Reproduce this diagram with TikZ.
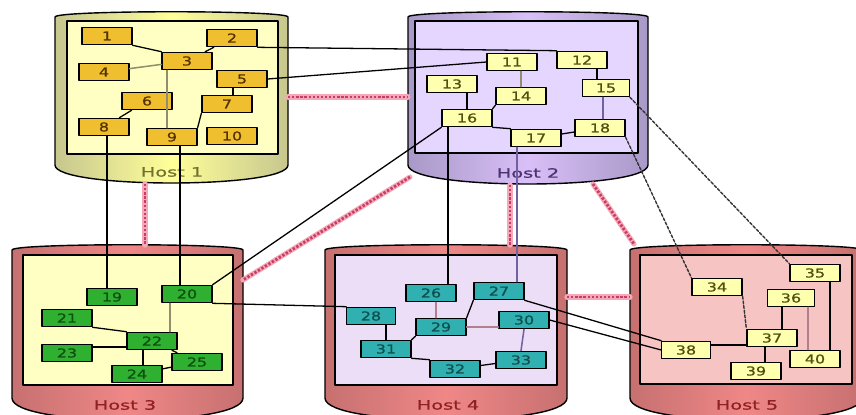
\documentclass[tikz,border=0pt]{standalone}
\usepackage{fontspec}
\setmainfont{DejaVu Sans}
\newfontfamily\boxfont[FakeStretch=1.3,FakeBold=0.8]{DejaVu Sans}
\newfontfamily\hostfont[FakeStretch=1.5,FakeBold=0.8]{DejaVu Sans}
\usepackage{tikz}
\usetikzlibrary{calc}
\definecolor{ffff99}{rgb}{1,1,0.6}
\definecolor{c8c890}{rgb}{0.78,0.78,0.56}
\definecolor{ffffc4}{rgb}{1,1,0.77}
\definecolor{707030}{rgb}{0.44,0.44,0.19}
\definecolor{d8c0f8}{rgb}{0.85,0.75,0.97}
\definecolor{a898c8}{rgb}{0.66,0.6,0.78}
\definecolor{e6d6ff}{rgb}{0.9,0.84,1}
\definecolor{503070}{rgb}{0.31,0.19,0.44}
\definecolor{f08888}{rgb}{0.94,0.53,0.53}
\definecolor{c87070}{rgb}{0.78,0.44,0.44}
\definecolor{eeddf8}{rgb}{0.93,0.87,0.97}
\definecolor{f8c4c4}{rgb}{0.97,0.77,0.77}
\definecolor{902020}{rgb}{0.56,0.13,0.13}
\definecolor{f0c030}{rgb}{0.94,0.75,0.19}
\definecolor{553300}{rgb}{0.33,0.2,0}
\definecolor{ffffb0}{rgb}{1,1,0.69}
\definecolor{505010}{rgb}{0.31,0.31,0.06}
\definecolor{30b030}{rgb}{0.19,0.69,0.19}
\definecolor{105010}{rgb}{0.06,0.31,0.06}
\definecolor{30b0b0}{rgb}{0.19,0.69,0.69}
\definecolor{105050}{rgb}{0.06,0.31,0.31}
\definecolor{c83c64}{rgb}{0.78,0.24,0.39}
\definecolor{f4a8b8}{rgb}{0.96,0.66,0.72}
\definecolor{909070}{rgb}{0.56,0.56,0.44}
\definecolor{7060a0}{rgb}{0.44,0.38,0.63}
\definecolor{b08090}{rgb}{0.69,0.5,0.56}
% cylinder of one host: left, right, top, side bottom, centre bottom, main colour, side colour
\newcommand{\hostcyl}[7]{%
  \shade[left color=#7,right color=#7,middle color=#6,draw=black,line width=1.2pt]
    (#1,#4) -- (#1,#3+5) .. controls (#1,#3-2) and (#2,#3-2) .. (#2,#3+5)
    -- (#2,#4) .. controls (#2,{#4+(#5-#4)*4/3}) and (#1,{#4+(#5-#4)*4/3}) .. (#1,#4) -- cycle;}

\begin{document}
\begin{tikzpicture}[x=0.03cm,y=-0.03cm,line cap=round,line join=round,
  proc/.style={draw=black,line width=1.1pt,minimum width=1.5cm,minimum height=0.52cm,inner sep=0pt,font=\boxfont\fontsize{10.5}{10}\selectfont},
  procone/.style={proc,fill=f0c030,text=553300},
  proctwo/.style={proc,fill=ffffb0,text=505010},
  procthree/.style={proc,fill=30b030,text=105010},
  procfour/.style={proc,fill=30b0b0,text=105050},
  hostlbl/.style={font=\hostfont\fontsize{11}{11}\selectfont},
  inner/.style={draw=black,line width=1.2pt},
  link/.style={draw=black,line width=1.1pt},
  greylink/.style={draw=909070,line width=1.3pt},
  purplink/.style={draw=7060a0,line width=1.3pt},
  pinklink/.style={draw=b08090,line width=1.3pt},
  dotlink/.style={draw=black!80,line width=1.2pt,dash pattern=on 2.5pt off 1.5pt},
  hostlink/.style={draw=c83c64,line width=2.4pt,line cap=butt,dash pattern=on 2pt off 1.5pt,preaction={draw=f4a8b8,line width=4.4pt,solid}}]
\clip (0,0) rectangle (856,414);
\fill[white] (0,0) rectangle (856,414);
% hosts
\hostcyl{55}{288}{12}{165}{183}{ffff99}{c8c890}
\filldraw[inner,fill=ffffc4] (67,21) rectangle (278,154);
\node[hostlbl,text=707030] (lbl1) at (172,172) {Host 1};
\hostcyl{408}{648}{12}{165}{184}{d8c0f8}{a898c8}
\filldraw[inner,fill=e6d6ff] (415,21) rectangle (638,153);
\node[hostlbl,text=503070] (lbl2) at (528,173) {Host 2};
\hostcyl{12}{243}{245}{398}{420}{f08888}{c87070}
\filldraw[inner,fill=ffffc4] (23,255) rectangle (233,385);
\node[hostlbl,text=902020] (lbl3) at (125,405) {Host 3};
\hostcyl{325}{567}{245}{398}{420}{f08888}{c87070}
\filldraw[inner,fill=eeddf8] (335,255) rectangle (557,385);
\node[hostlbl,text=902020] (lbl4) at (448,405) {Host 4};
\hostcyl{630}{862}{245}{398}{420}{f08888}{c87070}
\filldraw[inner,fill=f8c4c4] (640,255) rectangle (852,384);
\node[hostlbl,text=902020] (lbl5) at (747,405) {Host 5};
% links between hosts
\coordinate (h1e) at (288,97);
\coordinate (h2w) at (408,97);
\coordinate (h1s) at (145,184);
\coordinate (h3n) at (145,245);
\coordinate (h2sw) at (410,177);
\coordinate (h3ne) at (243,280);
\coordinate (h2s) at (510,185);
\coordinate (h4n) at (510,245);
\coordinate (h2se) at (593,184);
\coordinate (h5nw) at (634,244);
\coordinate (h4e) at (567,297);
\coordinate (h5w) at (630,297);
\draw[hostlink] (h1e) -- (h2w);
\draw[hostlink] (h1s) -- (h3n);
\draw[hostlink] (h2sw) -- (h3ne);
\draw[hostlink] (h2s) -- (h4n);
\draw[hostlink] (h2se) -- (h5nw);
\draw[hostlink] (h4e) -- (h5w);
% host 1
\node[procone] (n1) at (107,36) {1};
\node[procone] (n2) at (232,38) {2};
\node[procone] (n3) at (187,61) {3};
\node[procone] (n4) at (104,72) {4};
\node[procone] (n5) at (242,79) {5};
\node[procone] (n6) at (147,101) {6};
\node[procone] (n7) at (227,104) {7};
\node[procone] (n8) at (104,127) {8};
\node[procone] (n9) at (172,137) {9};
\node[procone] (n10) at (232,136) {10};
% host 2
\node[proctwo] (n11) at (512,62) {11};
\node[proctwo] (n12) at (582,60) {12};
\node[proctwo] (n13) at (452,84) {13};
\node[proctwo] (n14) at (521,96) {14};
\node[proctwo,minimum width=1.4cm] (n15) at (606,88) {15};
\node[proctwo] (n16) at (467,118) {16};
\node[proctwo] (n17) at (536,138) {17};
\node[proctwo] (n18) at (600,128) {18};
% host 3
\node[procthree] (n19) at (112,297) {19};
\node[procthree] (n20) at (187,294) {20};
\node[procthree] (n21) at (67,318) {21};
\node[procthree] (n22) at (152,341) {22};
\node[procthree] (n23) at (67,353) {23};
\node[procthree] (n24) at (137,374) {24};
\node[procthree] (n25) at (197,362) {25};
% host 4
\node[procfour] (n26) at (431,293) {26};
\node[procfour] (n27) at (499,291) {27};
\node[procfour,minimum width=1.45cm] (n28) at (371,316) {28};
\node[procfour] (n29) at (441,327) {29};
\node[procfour] (n30) at (524,320) {30};
\node[procfour] (n31) at (386,349) {31};
\node[procfour] (n32) at (455,369) {32};
\node[procfour] (n33) at (521,360) {33};
% host 5
\node[proctwo] (n34) at (717,287) {34};
\node[proctwo] (n35) at (815,273) {35};
\node[proctwo,minimum width=1.42cm] (n36) at (791,298) {36};
\node[proctwo] (n37) at (772,338) {37};
\node[proctwo,minimum width=1.45cm] (n38) at (686,350) {38};
\node[proctwo] (n39) at (756,371) {39};
\node[proctwo] (n40) at (815,359) {40};
% connectors in host 1
\draw[link] (n1.south east) -- (n3.north west);
\draw[link] (n2) -- (n3);
\draw[greylink] (n4) -- (n3);
\draw[greylink] ($(n3.south)+(-20,0)$) coordinate (a) -- (a |- n9.north);
\draw[link] ($(n7.north)+(6,0)$) coordinate (a) -- (a |- n5.south);
\draw[link] (n6) -- (n8);
\draw[link] (n7.south west) -- (n9.north east);
\draw[link] (n2.south east) -- (n12.north west);
\draw[link] (n5.east) -- (n11.west);
\draw[link] ($(n8.south)+(3,0)$) coordinate (a) -- (a |- n19.north);
\draw[link] ($(n9.south)+(8,0)$) coordinate (a) -- (a |- n20.north);
% connectors in host 2
\draw[greylink] (n14.north) -- (n14.north |- n11.south);
\draw[link] ($(n15.north)+(-9,0)$) coordinate (a) -- (a |- n12.south);
\draw[link] (n16.north) -- (n16.north |- n13.south);
\draw[link] (n14.south west) -- (n16.north east);
\draw[purplink] ($(n18.north)+(3,0)$) coordinate (a) -- (a |- n15.south);
\draw[link] (n16.south east) -- (n17.north west);
\draw[link] (n17) -- (n18);
\draw[link] ($(n16.south)+(-19,0)$) coordinate (a) -- (a |- n26.north);
\draw[purplink] ($(n17.south)+(-19,0)$) coordinate (a) -- (a |- n27.north);
\draw[link] (n16.south west) -- (n20.north east);
\draw[dotlink] (n15.south east) -- (n35.north west);
\draw[dotlink] (n18.south east) -- (n34.north west);
% connectors in host 3
\draw[greylink] ($(n20.south)+(-17,0)$) coordinate (a) -- (a |- n22.north);
\draw[link] (n21.south east) -- (n22.north west);
\draw[link] ($(n23.east)+(0,-6)$) coordinate (a) -- (a -| n22.west);
\draw[link] ($(n24.north)+(6,0)$) coordinate (a) -- (a |- n22.south);
\draw[link] (n22) -- (n25);
\draw[link] (n24) -- (n25);
\draw[link] (n20.south east) -- (n28.north west);
% connectors in host 4
\draw[pinklink] ($(n26.south)+(5,0)$) coordinate (a) -- (a |- n29.north);
\draw[link] (n27.south west) -- (n29.north east);
\draw[link] (n31.north) -- (n31.north |- n28.south);
\draw[pinklink] (n29.east) -- (n29.east -| n30.west);
\draw[link] (n29.south west) -- (n31.north east);
\draw[link] (n31.south east) -- (n32.north west);
\draw[link] (n32) -- (n33);
\draw[purplink] (n30.south) -- (n33.north);
\draw[link] (n27.south east) -- (n38.north west);
\draw[link] (n30.east) -- (n38.west);
% connectors in host 5
\draw[dotlink] (n34.south east) -- (n37.north west);
\draw[link] ($(n36.south)+(-9,0)$) coordinate (a) -- (a |- n37.north);
\draw[pinklink] ($(n40.north)+(-7,0)$) coordinate (a) -- (a |- n36.south);
\draw[link,line width=1.4pt] ($(n35.south)+(15,0)$) coordinate (a) -- (a |- n40.north);
\draw[link] ($(n38.east)+(0,-5)$) coordinate (a) -- (a -| n37.west);
\draw[link] ($(n37.south)+(-7,0)$) coordinate (a) -- (a |- n39.north);
\end{tikzpicture}
\end{document}
